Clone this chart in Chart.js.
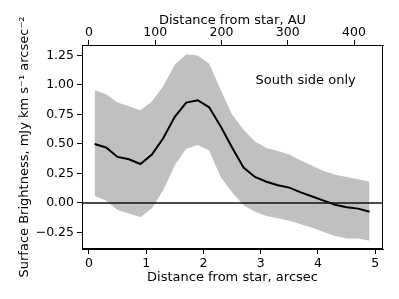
<!DOCTYPE html>
<html>
<head>
<meta charset="utf-8">
<script src="https://cdn.jsdelivr.net/npm/chart.js@4"></script>
<style>
  html, body { margin: 0; padding: 0; background: #fff; }
  #wrap { width: 399px; height: 299px; }
</style>
</head>
<body>
<div id="wrap"><canvas id="chart" width="399" height="299"></canvas></div>
<script>
// distance from star (arcsec), one point every 0.2"
const distArcsec = [0.1, 0.3, 0.5, 0.7, 0.9, 1.1, 1.3, 1.5, 1.7, 1.9, 2.1, 2.3, 2.5,
  2.7, 2.9, 3.1, 3.3, 3.5, 3.7, 3.9, 4.1, 4.3, 4.5, 4.7, 4.9];
const brightness = [0.50, 0.47, 0.39, 0.37, 0.33, 0.41, 0.55, 0.73, 0.85, 0.87, 0.81, 0.65, 0.47,
  0.30, 0.22, 0.18, 0.15, 0.13, 0.09, 0.055, 0.02, -0.015, -0.037, -0.048, -0.075];
const upperBand = [0.955, 0.92, 0.85, 0.82, 0.785, 0.86, 0.99, 1.17, 1.26, 1.25, 1.18, 0.96, 0.75,
  0.62, 0.52, 0.465, 0.44, 0.41, 0.36, 0.315, 0.27, 0.24, 0.22, 0.20, 0.18];
const lowerBand = [0.06, 0.02, -0.06, -0.09, -0.12, -0.045, 0.11, 0.32, 0.46, 0.49, 0.445, 0.22, 0.09,
  -0.02, -0.075, -0.11, -0.13, -0.15, -0.18, -0.21, -0.245, -0.28, -0.30, -0.30, -0.32];

const xTicks = [0, 1, 2, 3, 4, 5];
const auTicks = [0, 100, 200, 300, 400];
const yTicks = [-0.25, 0, 0.25, 0.5, 0.75, 1.0, 1.25];
const auPerArcsec = 86.4;
const xMin = -0.12, xMax = 5.135;
const yMin = -0.39, yMax = 1.338;

const pts = (ys) => distArcsec.map((x, i) => ({ x: x, y: ys[i] }));
const FONT = "'DejaVu Sans', sans-serif";
const bandColor = "rgb(192,192,192)";

// zero line, plot box and the annotation
const frame = {
  id: "frame",
  afterDatasetsDraw(chart) {
    const { ctx, chartArea: a, scales } = chart;
    const y0 = scales.y.getPixelForValue(0);
    ctx.save();
    ctx.strokeStyle = "#111";
    ctx.lineWidth = 1.5;
    ctx.beginPath();
    ctx.moveTo(a.left, y0);
    ctx.lineTo(a.right, y0);
    ctx.stroke();
    ctx.restore();
  },
  afterDraw(chart) {
    const { ctx, chartArea: a, scales } = chart;
    ctx.save();
    ctx.strokeStyle = "#000";
    ctx.lineWidth = 1;
    ctx.strokeRect(a.left + 0.5, a.top + 0.5, a.right - a.left - 1, a.bottom - a.top - 1);
    ctx.font = "13px " + FONT;
    ctx.fillStyle = "#000";
    ctx.textBaseline = "middle";
    ctx.fillText("South side only", scales.x.getPixelForValue(2.91), scales.y.getPixelForValue(1.04));
    ctx.restore();
  }
};

new Chart(document.getElementById("chart"), {
  type: "line",
  data: {
    datasets: [
      {
        data: pts(brightness),
        borderColor: "#000",
        borderWidth: 2,
        pointRadius: 0,
        fill: false
      },
      {
        data: pts(lowerBand),
        borderWidth: 0,
        borderColor: bandColor,
        pointRadius: 0,
        fill: false
      },
      {
        data: pts(upperBand),
        borderWidth: 0,
        borderColor: bandColor,
        backgroundColor: bandColor,
        pointRadius: 0,
        fill: "-1"
      }
    ]
  },
  options: {
    responsive: false,
    animation: false,
    layout: { padding: { left: 0, right: 16, top: 0, bottom: 0 } },
    plugins: { legend: { display: false }, tooltip: { enabled: false } },
    elements: { line: { tension: 0 } },
    scales: {
      x: {
        type: "linear",
        position: "bottom",
        min: xMin,
        max: xMax,
        afterBuildTicks: (s) => { s.ticks = xTicks.map((v) => ({ value: v })); },
        afterFit: (s) => { s.height = 50; },
        ticks: { color: "#000", font: { family: FONT, size: 12.5 }, padding: 2, maxRotation: 0,
          callback: (v) => String(v) },
        grid: { drawOnChartArea: false, drawTicks: true, tickLength: 5, color: "#000" },
        border: { color: "#000", width: 1 },
        title: { display: true, text: "Distance from star, arcsec", color: "#000",
          font: { family: FONT, size: 13 }, padding: { top: 0, bottom: 14 } }
      },
      x2: {
        type: "linear",
        position: "top",
        min: xMin * auPerArcsec,
        max: xMax * auPerArcsec,
        afterBuildTicks: (s) => { s.ticks = auTicks.map((v) => ({ value: v })); },
        afterFit: (s) => { s.height = 45; },
        ticks: { color: "#000", font: { family: FONT, size: 12.5 }, padding: 0, maxRotation: 0,
          callback: (v) => String(v) },
        grid: { drawOnChartArea: false, drawTicks: true, tickLength: 5, color: "#000" },
        border: { color: "#000", width: 1 },
        title: { display: true, text: "Distance from star, AU", color: "#000",
          font: { family: FONT, size: 13 }, padding: { top: 13, bottom: 0 } }
      },
      y: {
        type: "linear",
        position: "left",
        min: yMin,
        max: yMax,
        afterBuildTicks: (s) => { s.ticks = yTicks.map((v) => ({ value: v })); },
        afterFit: (s) => { s.width = 82; },
        ticks: { color: "#000", font: { family: FONT, size: 12.5 }, padding: 3,
          callback: (v) => v.toFixed(2).replace("-", "\u2212") },
        grid: { drawOnChartArea: false, drawTicks: true, tickLength: 5, color: "#000" },
        border: { color: "#000", width: 1 },
        title: { display: true, text: "Surface Brightness, mJy km s\u207B\u00B9 arcsec\u207B\u00B2",
          color: "#000", font: { family: FONT, size: 13 }, padding: { top: 17, bottom: 0 } }
      }
    }
  },
  plugins: [frame]
});
</script>
</body>
</html>
